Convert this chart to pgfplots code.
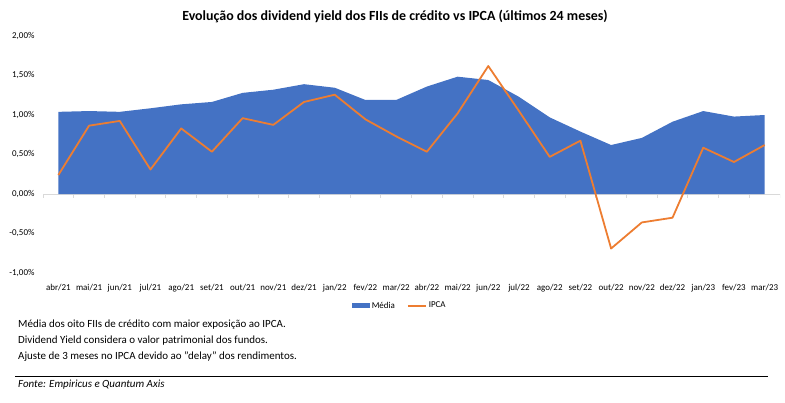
\documentclass[border=0pt]{standalone}
\usepackage{fontspec}
\setmainfont{Carlito}
\usepackage{pgfplots}
\pgfplotsset{compat=1.18}
\definecolor{mblue}{HTML}{4472C4}
\definecolor{morange}{HTML}{ED7D31}
\definecolor{axgray}{HTML}{D9D9D9}
\begin{document}
\begin{tikzpicture}[x=1bp,y=1bp]
\path[use as bounding box] (0,0) rectangle (785,402);
\node[font=\fontsize{14}{16}\selectfont\bfseries] at (395,386) {Evolução dos dividend yield dos FIIs de crédito vs IPCA (últimos 24 meses)};
\begin{axis}[
  at={(43bp,129bp)}, anchor=south west,
  scale only axis, width=737bp, height=237bp,
  xmin=-0.5, xmax=23.5, ymin=-1, ymax=2,
  axis x line=bottom, axis y line=left,
  axis line style={draw=none},
  major tick length=0pt,
  xtick={0,...,23},
  xticklabels={abr/21,mai/21,jun/21,jul/21,ago/21,set/21,out/21,nov/21,dez/21,jan/22,fev/22,mar/22,abr/22,mai/22,jun/22,jul/22,ago/22,set/22,out/22,nov/22,dez/22,jan/23,fev/23,mar/23},
  ytick={-1,-0.5,0,0.5,1,1.5,2},
  yticklabel={\pgfmathprintnumber[use comma,fixed,fixed zerofill,precision=2]{\tick}\%},
  /pgf/number format/assume math mode=true,
  ticklabel style={font=\fontsize{9}{11}\selectfont},
  yticklabel style={xshift=-5bp},
  xticklabel style={yshift=-7.5bp},
  legend style={at={(0.484,-0.138)}, anchor=center, draw=none, fill=none,
    font=\fontsize{9}{11}\selectfont, legend columns=2,
    /tikz/every even column/.append style={column sep=10bp}},
]
\draw[axgray, line width=0.8bp] (axis cs:-0.5,0) -- (axis cs:23.5,0);
\pgfplotsinvokeforeach{-0.5,0.5,1.5,2.5,3.5,4.5,5.5,6.5,7.5,8.5,9.5,10.5,11.5,12.5,13.5,14.5,15.5,16.5,17.5,18.5,19.5,20.5,21.5,22.5,23.5}{\draw[axgray, line width=0.8bp] (axis cs:#1,0) -- ([yshift=-4bp]axis cs:#1,0);}
\addplot[fill=mblue, draw=none,
  legend image code/.code={\fill[mblue] (0bp,-2.5bp) rectangle (18bp,2.5bp);}]
  coordinates {(0,1.04) (1,1.05) (2,1.04) (3,1.085) (4,1.135) (5,1.165) (6,1.28) (7,1.32) (8,1.39) (9,1.345) (10,1.19) (11,1.19) (12,1.36) (13,1.485) (14,1.443) (15,1.23) (16,0.97) (17,0.79) (18,0.62) (19,0.71) (20,0.915) (21,1.05) (22,0.98) (23,1.0)} \closedcycle;
\addlegendentry{Média}
\addplot[morange, line width=1.8bp, line join=round,
  legend image code/.code={\draw[morange,line width=1.8bp] (0bp,0bp) -- (18bp,0bp);}]
  coordinates {(0,0.24) (1,0.865) (2,0.925) (3,0.31) (4,0.83) (5,0.535) (6,0.96) (7,0.875) (8,1.165) (9,1.257) (10,0.945) (11,0.73) (12,0.535) (13,1.02) (14,1.62) (15,1.05) (16,0.47) (17,0.675) (18,-0.69) (19,-0.36) (20,-0.30) (21,0.586) (22,0.405) (23,0.62)};
\addlegendentry{IPCA}
\end{axis}
\node[anchor=west, inner sep=0, font=\fontsize{11}{13}\selectfont] at (18,77) {Média dos oito FIIs de crédito com maior exposição ao IPCA.};
\node[anchor=west, inner sep=0, font=\fontsize{11}{13}\selectfont] at (18,61) {Dividend Yield considera o valor patrimonial dos fundos.};
\node[anchor=west, inner sep=0, font=\fontsize{11}{13}\selectfont] at (18,45) {Ajuste de 3 meses no IPCA devido ao "delay" dos rendimentos.};
\draw[line width=1bp] (15,25.5) -- (768,25.5);
\node[anchor=west, inner sep=0, font=\fontsize{11}{13}\selectfont\itshape] at (18,17) {Fonte: Empiricus e Quantum Axis};
\end{tikzpicture}
\end{document}
